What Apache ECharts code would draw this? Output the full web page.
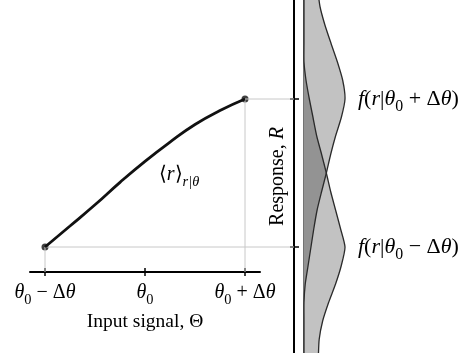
<!DOCTYPE html>
<html>
<head>
<meta charset="utf-8">
<script src="https://cdn.jsdelivr.net/npm/echarts@6/dist/echarts.min.js"></script>
<style>
  html, body { margin: 0; padding: 0; background: #fff; }
  #chart { width: 475px; height: 353px; }
</style>
</head>
<body>
<div id="chart"></div>
<script>
// left panel: tuning curve, mean response vs input signal
const thetaVals = [-1, -0.75, -0.5, -0.25, 0, 0.25, 0.5, 0.75, 1];
const meanResp = [0, 0.142, 0.285, 0.437, 0.579, 0.709, 0.828, 0.922, 1];
const thetaTicks = [-1, 0, 1];
const thetaTickLabels = [
  "{it|θ}{sub|0}{op| − Δ}{it|θ}",
  "{it|θ}{sub|0}",
  "{it|θ}{sub|0}{op| + Δ}{it|θ}",
];
const respTicks = [0, 1];

// right panel: response distributions, sampled along the response axis
const rSamples = [
  -0.75, -0.625, -0.5, -0.375, -0.25, -0.125, 0, 0.125, 0.25, 0.375, 0.5,
  0.625, 0.75, 0.875, 1, 1.125, 1.25, 1.375, 1.5, 1.625, 1.75,
];
const densHi = [
  0, 0, 0, 0, 0.03, 0.1, 0.17, 0.24, 0.32, 0.43, 0.545,
  0.65, 0.77, 0.91, 1, 0.945, 0.815, 0.66, 0.51, 0.39, 0.33,
];
const densLo = [
  0.35, 0.37, 0.455, 0.6, 0.77, 0.91, 1, 0.89, 0.77, 0.65, 0.545,
  0.43, 0.31, 0.22, 0.13, 0.05, 0, 0, 0, 0, 0,
];
const densLabels = [
  "{it|f}{op|(}{it|r}{op||}{it|θ}{sub|0}{op| − Δ}{it|θ}{op|)}",
  "{it|f}{op|(}{it|r}{op||}{it|θ}{sub|0}{op| + Δ}{it|θ}{op|)}",
];

// axis ranges (148px per response unit, 100px per theta unit)
const R_MIN = -106 / 148;
const R_MAX = 247 / 148;
const R_FLOOR = -25 / 148;
const TH_MIN = -1.15;
const TH_MAX = 1.15;
const TH_MAX_WIDE = 1.49;
const D_MAX = 50 / 41;

const serif = "Liberation Serif";
function makeRich(size) {
  const lh = Math.round(size * 1.45);
  const slh = Math.round(size * 0.8);
  return {
    it: { fontFamily: serif, fontStyle: "italic", fontSize: size, lineHeight: lh, color: "#000" },
    op: { fontFamily: serif, fontSize: size, lineHeight: lh, color: "#000" },
    sub: { fontFamily: serif, fontSize: size * 0.72, lineHeight: slh, verticalAlign: "bottom", color: "#000" },
    subit: { fontFamily: serif, fontStyle: "italic", fontSize: size * 0.72, lineHeight: slh, verticalAlign: "bottom", color: "#000" },
  };
}
const richTick = makeRich(20);
const richDens = makeRich(22);

const chart = echarts.init(document.getElementById("chart"));

function densityShapes(params, api) {
  const pts = (vals) => rSamples.map((r, i) => api.coord([vals[i], r]));
  const closed = (vals) =>
    [api.coord([0, rSamples[0]])].concat(pts(vals), [api.coord([0, rSamples[rSamples.length - 1]])]);
  const overlap = rSamples.map((r, i) => Math.min(densHi[i], densLo[i]));
  const outline = { stroke: "#2a2a2a", lineWidth: 1.3, fill: null };
  return {
    type: "group",
    children: [
      { type: "polygon", shape: { points: closed(densHi) }, style: { fill: "#c2c2c2" } },
      { type: "polygon", shape: { points: closed(densLo) }, style: { fill: "#c2c2c2" } },
      { type: "polygon", shape: { points: closed(overlap) }, style: { fill: "#939393" } },
      { type: "polyline", shape: { points: pts(densHi), smooth: 0.2 }, style: outline },
      { type: "polyline", shape: { points: pts(densLo), smooth: 0.2 }, style: outline },
    ],
  };
}

const options = {
  animation: false,
  backgroundColor: "#fff",
  grid: [
    { left: 30, top: 0, width: 230, height: 272, outerBoundsMode: "none" },
    { left: 30, top: 0, width: 264, height: 353, outerBoundsMode: "none" },
    { left: 304, top: 0, width: 50, height: 353, outerBoundsMode: "none" },
  ],
  xAxis: [
    {
      gridIndex: 0,
      type: "value",
      min: TH_MIN,
      max: TH_MAX,
      position: "bottom",
      splitLine: { show: false },
      axisLine: { onZero: false, lineStyle: { color: "#000", width: 2 } },
      axisTick: { customValues: thetaTicks, length: 4, lineStyle: { color: "#000", width: 1.5 } },
      axisLabel: {
        customValues: thetaTicks,
        margin: 6,
        formatter: (v) => thetaTickLabels[thetaTicks.indexOf(v)],
        rich: richTick,
      },
      name: "Input signal, Θ",
      nameLocation: "middle",
      nameGap: 31,
      nameTextStyle: { fontFamily: serif, fontSize: 19.5, color: "#000" },
    },
    {
      gridIndex: 0,
      type: "value",
      min: TH_MIN,
      max: TH_MAX,
      position: "bottom",
      splitLine: { show: false },
      axisLine: { show: false, onZero: false },
      axisTick: { customValues: thetaTicks, inside: true, length: 4, lineStyle: { color: "#000", width: 1.5 } },
      axisLabel: { show: false },
    },
    { gridIndex: 1, type: "value", min: TH_MIN, max: TH_MAX_WIDE, show: false },
    { gridIndex: 2, type: "value", min: 0, max: D_MAX, show: false },
  ],
  yAxis: [
    { gridIndex: 0, type: "value", min: R_FLOOR, max: R_MAX, show: false },
    {
      gridIndex: 1,
      type: "value",
      min: R_MIN,
      max: R_MAX,
      position: "right",
      splitLine: { show: false },
      axisLine: { onZero: false, lineStyle: { color: "#000", width: 2 } },
      axisTick: { customValues: respTicks, length: 5, lineStyle: { color: "#000", width: 1.5 } },
      axisLabel: { show: false },
      name: "{op|Response, }{it|R}",
      nameLocation: "middle",
      nameGap: -31,
      nameTextStyle: { rich: richTick },
    },
    {
      gridIndex: 1,
      type: "value",
      min: R_MIN,
      max: R_MAX,
      position: "right",
      splitLine: { show: false },
      axisLine: { show: false, onZero: false },
      axisTick: { customValues: respTicks, inside: true, length: 4, lineStyle: { color: "#000", width: 1.5 } },
      axisLabel: { show: false },
    },
    {
      gridIndex: 2,
      type: "value",
      min: R_MIN,
      max: R_MAX,
      position: "left",
      splitLine: { show: false },
      axisLine: { onZero: false, lineStyle: { color: "#444", width: 1.5 } },
      axisTick: { show: false },
      axisLabel: { show: false },
    },
    {
      gridIndex: 2,
      type: "value",
      min: R_MIN,
      max: R_MAX,
      position: "right",
      splitLine: { show: false },
      axisLine: { show: false, onZero: false },
      axisTick: { show: false },
      axisLabel: {
        customValues: respTicks,
        margin: 4,
        formatter: (v) => densLabels[respTicks.indexOf(v)],
        rich: richDens,
      },
    },
  ],
  series: [
    {
      type: "line",
      xAxisIndex: 2,
      yAxisIndex: 1,
      symbol: "none",
      lineStyle: { color: "#c8c8c8", width: 1 },
      data: [
        [thetaTicks[0], R_FLOOR],
        [thetaVals[0], meanResp[0]],
        [TH_MAX_WIDE, meanResp[0]],
      ],
    },
    {
      type: "line",
      xAxisIndex: 2,
      yAxisIndex: 1,
      symbol: "none",
      lineStyle: { color: "#c8c8c8", width: 1 },
      data: [
        [thetaTicks[2], R_FLOOR],
        [thetaVals[thetaVals.length - 1], meanResp[meanResp.length - 1]],
        [TH_MAX_WIDE, meanResp[meanResp.length - 1]],
      ],
    },
    {
      type: "line",
      xAxisIndex: 2,
      yAxisIndex: 1,
      symbol: "none",
      smooth: 0.5,
      lineStyle: { color: "#111", width: 2.8 },
      data: thetaVals.map((t, i) => [t, meanResp[i]]),
      markPoint: {
        symbol: "circle",
        symbolSize: 0,
        data: [
          {
            coord: [0.34, 0.49],
            label: {
              show: true,
              position: "inside",
              formatter: "{op|⟨}{it|r}{op|⟩}{subit|r|θ}",
              rich: richTick,
            },
          },
        ],
      },
    },
    {
      type: "scatter",
      xAxisIndex: 2,
      yAxisIndex: 1,
      symbolSize: 7,
      itemStyle: { color: "#111" },
      data: [
        [thetaVals[0], meanResp[0]],
        [thetaVals[thetaVals.length - 1], meanResp[meanResp.length - 1]],
      ],
    },
    {
      type: "custom",
      xAxisIndex: 3,
      yAxisIndex: 3,
      renderItem: densityShapes,
      data: [0],
    },
  ],
};

chart.setOption(options);
</script>
</body>
</html>
